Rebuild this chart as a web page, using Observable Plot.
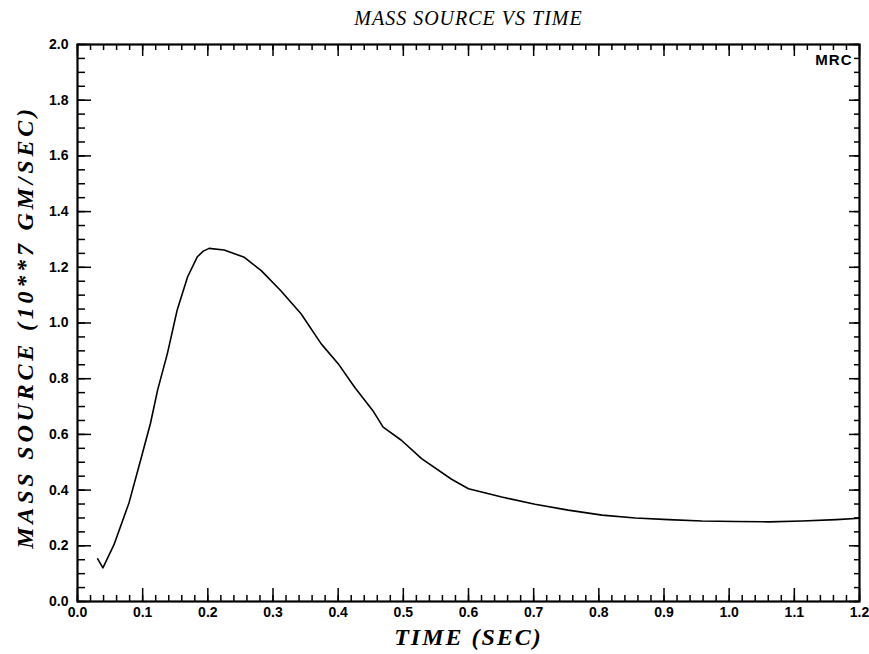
<!DOCTYPE html>
<html>
<head>
<meta charset="utf-8">
<script src="https://cdn.jsdelivr.net/npm/d3@7"></script>
<script src="https://cdn.jsdelivr.net/npm/@observablehq/plot@0.6"></script>
<style>
  html, body { margin: 0; padding: 0; background: #fff; }
</style>
</head>
<body>
<div id="chart"></div>
<script>
// Data
const time = [0.031, 0.039, 0.056, 0.079, 0.097, 0.112, 0.123, 0.138, 0.153, 0.169, 0.184, 0.193, 0.202, 0.225, 0.256, 0.282, 0.312, 0.343, 0.374, 0.400, 0.425, 0.453, 0.469, 0.497, 0.528, 0.574, 0.600, 0.651, 0.702, 0.753, 0.805, 0.856, 0.907, 0.958, 1.010, 1.061, 1.112, 1.164, 1.200];
const mass = [0.153, 0.121, 0.204, 0.354, 0.509, 0.640, 0.760, 0.891, 1.047, 1.166, 1.238, 1.258, 1.268, 1.262, 1.236, 1.188, 1.116, 1.033, 0.925, 0.854, 0.770, 0.686, 0.626, 0.579, 0.513, 0.439, 0.405, 0.375, 0.349, 0.328, 0.310, 0.300, 0.294, 0.289, 0.287, 0.286, 0.289, 0.294, 0.299];

const xTickValues = [0, 0.1, 0.2, 0.3, 0.4, 0.5, 0.6, 0.7, 0.8, 0.9, 1.0, 1.1, 1.2];
const yTickValues = [0, 0.2, 0.4, 0.6, 0.8, 1.0, 1.2, 1.4, 1.6, 1.8, 2.0];
const xMinor = d3.range(0, 1.2001, 0.02);
const yMinor = d3.range(0, 2.0001, 0.05);

const titleText = "MASS SOURCE VS TIME";
const xLabelText = "TIME (SEC)";
const yLabelText = "MASS SOURCE (10**7 GM/SEC)";
const tagText = "MRC";

const points = time.map((t, i) => ({t, m: mass[i]}));

const W = 869, H = 654;
const mL = 77, mR = 10, mT = 44, mB = 53;
const iw = W - mL - mR, ih = H - mT - mB;

const serif = "'Liberation Serif', 'DejaVu Serif', serif";
const sans = "'Liberation Sans', Arial, sans-serif";

const chart = Plot.plot({
  width: W,
  height: H,
  marginLeft: mL,
  marginRight: mR,
  marginTop: mT,
  marginBottom: mB,
  style: {fontFamily: sans, background: "#fff", color: "#000"},
  x: {domain: [0, 1.2]},
  y: {domain: [0, 2.0]},
  marks: [
    // inward ticks, bottom
    Plot.ruleX(xMinor, {x: d => d, insetTop: ih - 6, stroke: "#000", strokeWidth: 1.5}),
    Plot.ruleX(xTickValues, {x: d => d, insetTop: ih - 13, stroke: "#000", strokeWidth: 1.5}),
    // top
    Plot.ruleX(xMinor, {x: d => d, insetBottom: ih - 6, stroke: "#000", strokeWidth: 1.5}),
    Plot.ruleX(xTickValues, {x: d => d, insetBottom: ih - 12, stroke: "#000", strokeWidth: 1.5}),
    // left
    Plot.ruleY(yMinor, {y: d => d, insetRight: iw - 8, stroke: "#000", strokeWidth: 1.5}),
    Plot.ruleY(yTickValues, {y: d => d, insetRight: iw - 14, stroke: "#000", strokeWidth: 1.5}),
    // right
    Plot.ruleY(yMinor, {y: d => d, insetLeft: iw - 5, stroke: "#000", strokeWidth: 1.5}),
    Plot.ruleY(yTickValues, {y: d => d, insetLeft: iw - 10, stroke: "#000", strokeWidth: 1.5}),
    Plot.frame({stroke: "#000", strokeWidth: 2.2}),
    Plot.axisX(xTickValues, {tickSize: 0, tickPadding: 6, fontSize: 14, fontWeight: "bold", tickFormat: d3.format(".1f"), label: null}),
    Plot.axisY(yTickValues, {tickSize: 0, tickPadding: 9, fontSize: 14, fontWeight: "bold", tickFormat: d3.format(".1f"), label: null}),
    Plot.line(points, {x: "t", y: "m", stroke: "#000", strokeWidth: 1.6}),
    Plot.text([titleText], {frameAnchor: "top", dy: -26, textAnchor: "middle", lineAnchor: "middle", fontFamily: serif, fontStyle: "italic", fontSize: 20}),
    Plot.text([xLabelText], {frameAnchor: "bottom", dy: 36, textAnchor: "middle", lineAnchor: "middle", fontFamily: serif, fontStyle: "italic", fontWeight: "bold", fontSize: 24}),
    Plot.text([yLabelText], {frameAnchor: "left", dx: -52, dy: 4, rotate: -90, textAnchor: "middle", lineAnchor: "middle", fontFamily: serif, fontStyle: "italic", fontWeight: "bold", fontSize: 24}),
    Plot.text([tagText], {frameAnchor: "top-right", dx: -7, dy: 16, textAnchor: "end", lineAnchor: "middle", fontWeight: "bold", fontSize: 15})
  ]
});

document.getElementById("chart").appendChild(chart);

const spacing = {[titleText]: "1px", [xLabelText]: "2px", [yLabelText]: "3.8px", [tagText]: "1px"};
d3.select(chart).selectAll("text").each(function() {
  const s = spacing[this.textContent];
  if (s) d3.select(this).style("letter-spacing", s);
});
</script>
</body>
</html>
